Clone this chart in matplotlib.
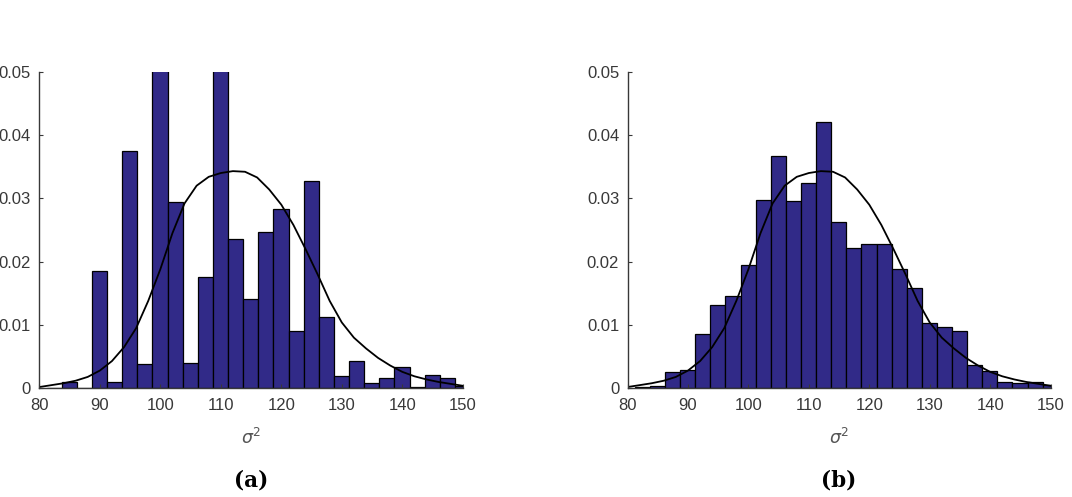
import numpy as np
import matplotlib
matplotlib.use("Agg")
from matplotlib import pyplot as plt

# histogram bins (left edges, width 2.5)
bin_left = [81.2, 83.7, 86.2, 88.7, 91.2, 93.7, 96.2, 98.7, 101.2, 103.7,
            106.2, 108.7, 111.2, 113.7, 116.2, 118.7, 121.2, 123.7, 126.2,
            128.7, 131.2, 133.7, 136.2, 138.7, 141.2, 143.7, 146.2, 148.7]
bin_width = 2.5

# panel (a) densities (two bars run past the 0.05 limit)
dens_a = [0.0, 0.001, 0.0, 0.0185, 0.001, 0.0375, 0.0039, 0.055, 0.0295,
          0.004, 0.0176, 0.055, 0.0236, 0.0141, 0.0247, 0.0283, 0.0091,
          0.0328, 0.0113, 0.002, 0.0043, 0.0009, 0.0017, 0.0034, 0.0002,
          0.0021, 0.0017, 0.0004]

# panel (b) densities
dens_b = [0.0002, 0.0004, 0.0025, 0.0029, 0.0086, 0.0132, 0.0145, 0.0195,
          0.0298, 0.0367, 0.0296, 0.0325, 0.042, 0.0263, 0.0221, 0.0228,
          0.0228, 0.0188, 0.0159, 0.0103, 0.0097, 0.0091, 0.0037, 0.0027,
          0.001, 0.0009, 0.001, 0.0005]

# reference density curve (same in both panels)
curve_x = [80, 82, 84, 86, 88, 90, 92, 94, 96, 98, 100, 102, 104, 106, 108,
           110, 112, 114, 116, 118, 120, 122, 124, 126, 128, 130, 132, 134,
           136, 138, 140, 142, 144, 146, 148, 150]
curve_y = [0.0002, 0.0005, 0.0008, 0.0012, 0.0018, 0.0028, 0.0043, 0.0065,
           0.0095, 0.0138, 0.0188, 0.0245, 0.0292, 0.0320, 0.0334, 0.0340,
           0.0343, 0.0342, 0.0333, 0.0314, 0.0290, 0.0258, 0.0220, 0.0180,
           0.0138, 0.0104, 0.0080, 0.0063, 0.0048, 0.0036, 0.0026, 0.0019,
           0.0014, 0.0010, 0.0007, 0.0004]

xticks = [80, 90, 100, 110, 120, 130, 140, 150]
yticks = [0, 0.01, 0.02, 0.03, 0.04, 0.05]
ytick_labels = ["0", "0.01", "0.02", "0.03", "0.04", "0.05"]
panel_labels = ["(a)", "(b)"]

plt.rcParams["font.family"] = ["Liberation Sans", "DejaVu Sans"]
plt.rcParams["mathtext.fontset"] = "dejavusans"

bar_color = "#312a88"
grey = "#383838"

fig = plt.figure(figsize=(10.72, 4.97), dpi=100)
ax1 = fig.add_axes([0.0367, 0.2187, 0.395, 0.637])
ax2 = fig.add_axes([0.5854, 0.2187, 0.3946, 0.637])


def draw_panel(ax, dens, label):
    ax.bar(bin_left, dens, width=bin_width, align="edge", color=bar_color,
           edgecolor="black", linewidth=0.9)
    ax.plot(curve_x, curve_y, color="black", linewidth=1.3)
    ax.set_xlim(80, 150)
    ax.set_ylim(0, 0.05)
    ax.set_xticks(xticks)
    ax.set_yticks(yticks, ytick_labels)
    for side in ["top", "right"]:
        ax.spines[side].set_visible(False)
    for side in ["left", "bottom"]:
        ax.spines[side].set_color(grey)
        ax.spines[side].set_linewidth(1.0)
    ax.tick_params(direction="in", length=3, width=0.8, colors=grey,
                   labelsize=12)
    ax.tick_params(axis="x", pad=7)
    ax.tick_params(axis="y", pad=6)
    ax.set_xlabel(r"$\sigma^2$", fontsize=12.5, color="#555555", labelpad=10)
    ax.text(0.5, -0.29, label, transform=ax.transAxes, ha="center",
            va="center", fontsize=15.5, fontweight="bold", family="serif",
            color="black")


draw_panel(ax1, dens_a, panel_labels[0])
draw_panel(ax2, dens_b, panel_labels[1])

fig.savefig("out.png", dpi=100)
